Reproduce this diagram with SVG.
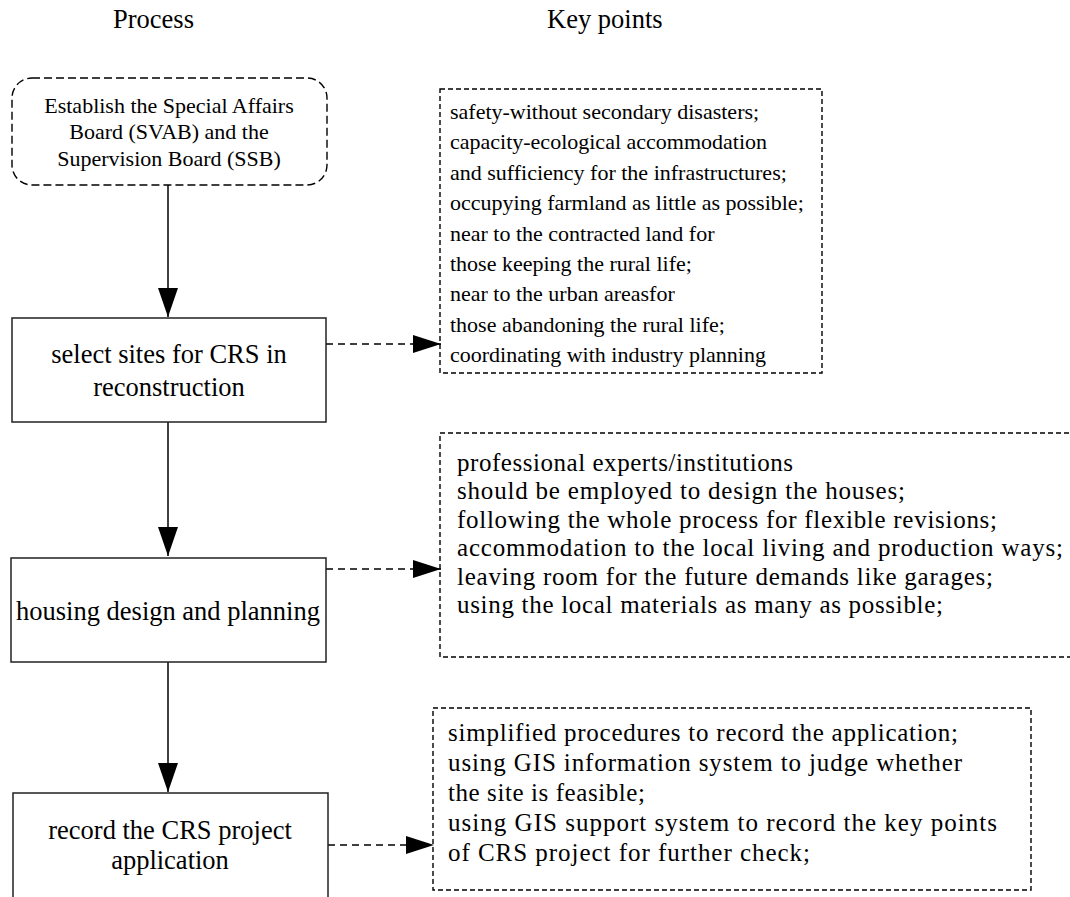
<svg xmlns="http://www.w3.org/2000/svg" width="1070" height="897" viewBox="0 0 1070 897">
<style>
text{font-family:"Liberation Serif","Times New Roman",serif;fill:#000}
.hd{font-size:26.5px}
.pt{font-size:26.5px;text-anchor:middle}
.tp{font-size:22px;text-anchor:middle}
.k1{font-size:22px}
.k2{font-size:25px}
.box{fill:#fff;stroke:#222;stroke-width:1.5}
.dbox{fill:none;stroke:#000;stroke-width:1.4;stroke-dasharray:5 3}
.rbox{fill:#fff;stroke:#000;stroke-width:1.4;stroke-dasharray:8 4}
.sl{stroke:#000;stroke-width:1.5;fill:none}
.dl{stroke:#000;stroke-width:1.4;fill:none;stroke-dasharray:7 5}
</style>
<defs>
<marker id="ah" markerUnits="userSpaceOnUse" markerWidth="30" markerHeight="22" refX="29" refY="10" orient="auto">
<path d="M0,0 L29,10 L0,20 Z" fill="#000"/>
</marker>
<marker id="dh" markerUnits="userSpaceOnUse" markerWidth="30" markerHeight="20" refX="28" refY="9" orient="auto">
<path d="M0,0 L28,9 L0,18 Z" fill="#000"/>
</marker>
</defs>
<g id="headers">
<text class="hd" x="113" y="28">Process</text>
<text class="hd" x="547" y="28">Key points</text>
</g>
<g id="connectors">
<line class="sl" x1="168" y1="185" x2="168" y2="317" marker-end="url(#ah)"/>
<line class="sl" x1="168" y1="422" x2="168" y2="556" marker-end="url(#ah)"/>
<line class="sl" x1="168" y1="662" x2="168" y2="792" marker-end="url(#ah)"/>
<line class="dl" x1="326" y1="344" x2="441" y2="344" marker-end="url(#dh)"/>
<line class="dl" x1="326" y1="569" x2="441" y2="569" marker-end="url(#dh)"/>
<line class="dl" x1="328" y1="845" x2="434" y2="845" marker-end="url(#dh)"/>
</g>
<g id="n-establish">
<rect class="rbox" x="12" y="78" width="315" height="107" rx="20" ry="20"/>
<text class="tp" x="169" y="113">Establish the Special Affairs</text>
<text class="tp" x="169" y="139">Board (SVAB) and the</text>
<text class="tp" x="169" y="166">Supervision Board (SSB)</text>
</g>
<g id="n-select">
<rect class="box" x="12" y="318" width="314" height="104"/>
<text class="pt" x="169" y="363">select sites for CRS in</text>
<text class="pt" x="169" y="396">reconstruction</text>
</g>
<g id="n-housing">
<rect class="box" x="11" y="558" width="315" height="104"/>
<text class="pt" x="168" y="620">housing design and planning</text>
</g>
<g id="n-record">
<rect class="box" x="13" y="793" width="315" height="120"/>
<text class="pt" x="170" y="839">record the CRS project</text>
<text class="pt" x="170" y="869">application</text>
</g>
<g id="k-sites">
<rect class="dbox" x="440" y="89" width="382" height="284"/>
<text class="k1" x="450" y="119">safety-without secondary disasters;</text>
<text class="k1" x="450" y="149.4">capacity-ecological accommodation</text>
<text class="k1" x="450" y="179.8">and sufficiency for the infrastructures;</text>
<text class="k1" x="450" y="210.1">occupying farmland as little as possible;</text>
<text class="k1" x="450" y="240.5">near to the contracted land for</text>
<text class="k1" x="450" y="270.9">those keeping the rural life;</text>
<text class="k1" x="450" y="301.2">near to the urban areasfor</text>
<text class="k1" x="450" y="331.6">those abandoning the rural life;</text>
<text class="k1" x="450" y="362">coordinating with industry planning</text>
</g>
<g id="k-housing">
<rect class="dbox" x="440" y="433" width="660" height="224"/>
<text class="k2" x="457" y="471" textLength="336" lengthAdjust="spacing">professional experts/institutions</text>
<text class="k2" x="457" y="499.4" textLength="448" lengthAdjust="spacing">should be employed to design the houses;</text>
<text class="k2" x="457" y="527.8" textLength="540" lengthAdjust="spacing">following the whole process for flexible revisions;</text>
<text class="k2" x="457" y="556.2" textLength="606" lengthAdjust="spacing">accommodation to the local living and production ways;</text>
<text class="k2" x="457" y="584.6" textLength="536" lengthAdjust="spacing">leaving room for the future demands like garages;</text>
<text class="k2" x="457" y="613" textLength="486" lengthAdjust="spacing">using the local materials as many as possible;</text>
</g>
<g id="k-record">
<rect class="dbox" x="433" y="708" width="598" height="182"/>
<text class="k2" x="448" y="741" textLength="510" lengthAdjust="spacing">simplified procedures to record the application;</text>
<text class="k2" x="448" y="771" textLength="514" lengthAdjust="spacing">using GIS information system to judge whether</text>
<text class="k2" x="448" y="801" textLength="197" lengthAdjust="spacing">the site is feasible;</text>
<text class="k2" x="448" y="831" textLength="549" lengthAdjust="spacing">using GIS support system to record the key points</text>
<text class="k2" x="448" y="861" textLength="362" lengthAdjust="spacing">of CRS project for further check;</text>
</g>
</svg>
